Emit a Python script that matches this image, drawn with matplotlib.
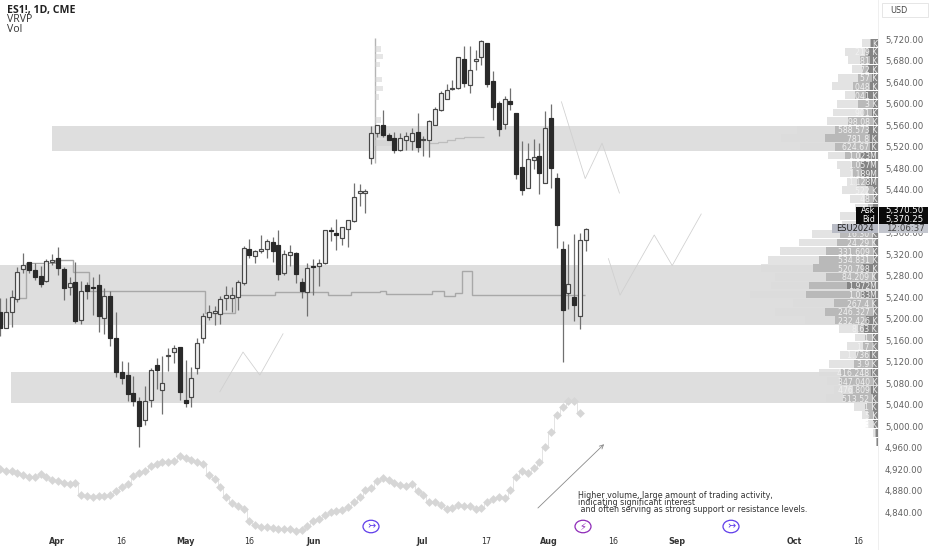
import numpy as np
import matplotlib
matplotlib.use('Agg')
import matplotlib.pyplot as plt
from matplotlib.patches import Ellipse, Rectangle

# daily candles, one row per bar: open, high, low, close
opens = [5213, 5183, 5213, 5237, 5293, 5305, 5290, 5279, 5271, 5306, 5313, 5293, 5260, 5269, 5198, 5263, 5259, 5263,
         5201, 5243, 5165, 5100, 5095, 5061, 5046, 5011, 5049, 5114, 5067, 5130, 5138, 5147, 5048, 5054, 5109, 5164,
         5203, 5211, 5208, 5239, 5239, 5240, 5267, 5329, 5316, 5327, 5329, 5342, 5338, 5285, 5319, 5322, 5269, 5249,
         5298, 5298, 5303, 5365, 5360, 5350, 5368, 5382, 5435, 5434, 5499, 5545, 5560, 5543, 5536, 5514, 5533, 5531,
         5547, 5532, 5532, 5561, 5589, 5610, 5627, 5630, 5684, 5636, 5679, 5687, 5714, 5643, 5601, 5563, 5606, 5583,
         5482, 5444, 5495, 5503, 5453, 5573, 5462, 5329, 5248, 5240, 5206, 5347]
highs = [5238, 5238, 5254, 5296, 5322, 5306, 5303, 5298, 5311, 5320, 5333, 5297, 5278, 5306, 5271, 5269, 5278, 5283,
         5257, 5251, 5212, 5121, 5119, 5094, 5055, 5075, 5108, 5126, 5131, 5145, 5151, 5148, 5124, 5111, 5164, 5210,
         5226, 5223, 5242, 5261, 5260, 5273, 5336, 5348, 5328, 5356, 5348, 5353, 5365, 5328, 5337, 5325, 5275, 5304,
         5311, 5312, 5366, 5371, 5385, 5371, 5384, 5453, 5451, 5442, 5559, 5561, 5589, 5546, 5548, 5545, 5548, 5555,
         5584, 5540, 5570, 5594, 5624, 5637, 5645, 5688, 5707, 5708, 5700, 5719, 5714, 5662, 5606, 5615, 5629, 5584,
         5531, 5527, 5534, 5527, 5587, 5600, 5471, 5344, 5340, 5358, 5359, 5369]
lows = [5167, 5182, 5185, 5232, 5285, 5285, 5272, 5260, 5269, 5300, 5282, 5234, 5244, 5192, 5190, 5236, 5207, 5176,
        5172, 5149, 5092, 5079, 5047, 5038, 4962, 5002, 5036, 5070, 5022, 5103, 5117, 5049, 5036, 5035, 5097, 5155,
        5198, 5188, 5190, 5216, 5213, 5216, 5263, 5313, 5304, 5323, 5313, 5306, 5272, 5282, 5298, 5267, 5238, 5205,
        5245, 5261, 5302, 5345, 5328, 5337, 5334, 5381, 5409, 5397, 5489, 5538, 5539, 5532, 5509, 5513, 5515, 5515,
        5511, 5503, 5502, 5561, 5587, 5609, 5626, 5628, 5631, 5621, 5664, 5673, 5631, 5570, 5541, 5553, 5589, 5461,
        5431, 5443, 5479, 5433, 5452, 5444, 5331, 5119, 5219, 5195, 5181, 5327]
closes = [5182, 5213, 5241, 5287, 5301, 5291, 5277, 5264, 5308, 5308, 5294, 5258, 5266, 5195, 5252, 5251, 5257, 5206,
          5242, 5165, 5101, 5090, 5060, 5046, 5001, 5046, 5105, 5105, 5081, 5131, 5146, 5064, 5044, 5090, 5154, 5206,
          5212, 5212, 5237, 5245, 5244, 5268, 5332, 5318, 5326, 5330, 5344, 5326, 5283, 5321, 5324, 5283, 5252, 5294,
          5296, 5303, 5365, 5363, 5355, 5370, 5383, 5427, 5437, 5437, 5545, 5560, 5542, 5533, 5515, 5537, 5541, 5545,
          5520, 5533, 5568, 5590, 5620, 5625, 5630, 5687, 5639, 5664, 5683, 5717, 5638, 5594, 5553, 5610, 5599, 5470,
          5440, 5497, 5502, 5471, 5556, 5480, 5374, 5216, 5264, 5226, 5347, 5368]

# grey volume average running along the bottom, in price units
vol_line = [4920, 4917, 4917, 4912, 4909, 4906, 4905, 4910, 4905, 4899, 4897, 4894, 4892, 4894, 4872, 4870, 4869,
            4870, 4870, 4871, 4880, 4886, 4892, 4907, 4912, 4917, 4925, 4930, 4933, 4933, 4936, 4945, 4940, 4937,
            4934, 4930, 4909, 4901, 4887, 4868, 4856, 4851, 4845, 4823, 4816, 4813, 4812, 4810, 4809, 4809, 4808,
            4805, 4807, 4814, 4824, 4828, 4835, 4841, 4842, 4844, 4850, 4859, 4868, 4881, 4885, 4897, 4903, 4899,
            4894, 4891, 4889, 4892, 4879, 4871, 4859, 4858, 4854, 4846, 4847, 4854, 4852, 4851, 4846, 4847, 4859,
            4864, 4869, 4867, 4882, 4905, 4917, 4913, 4922, 4934, 4961, 4989, 5020, 5035, 5047, 5046, 5024]

# point of control steps
poc_edges = [3, 4.5, 9.5, 12.5, 15.4, 35.3, 40.5, 47.4, 56.5, 60.5, 65.5, 66.5, 74.5, 76.5, 78.5, 79.6, 81.3, 100.9]
poc_levels = [5238, 5303, 5309, 5287, 5251, 5210, 5244, 5250, 5245, 5249, 5252, 5247, 5252, 5242, 5248, 5288, 5244]
upper_edges = [74, 75.5, 77, 78.5, 80, 81.5, 83.5]
upper_levels = [5528, 5530, 5533, 5536, 5538, 5539]

# small fixed range profile sitting on the gap bar
session_prices = [5702, 5688, 5673, 5645, 5629, 5613, 5570, 5542, 5527]
session_widths = [1.1, 1.5, 0.9, 1.2, 1.5, 0.7, 1.1, 2.0, 3.0]

# shaded zones
zone_start = [9, -1, 1.9]
zone_low = [5513, 5188, 5043]
zone_high = [5559.5, 5300, 5101]

# hand drawn sketches (bar, price)
sketch_a_x = [37.9, 41.9, 44.8, 48.8]
sketch_a_y = [5064, 5138, 5095, 5172]
sketch_b_x = [96.8, 100.9, 103.8, 106.8]
sketch_b_y = [5604, 5461, 5527, 5434]
sketch_c_x = [104.9, 106.9, 112.8, 115.9, 120.9]
sketch_c_y = [5312, 5244, 5356, 5299, 5395]
arrow_x = [92.4, 104.5]
arrow_y = [4844, 4970]

# right hand volume profile, rows from the top
row_prices = [5713, 5697, 5681, 5665, 5649, 5633, 5616, 5600, 5584, 5568, 5552, 5536, 5520, 5504, 5487, 5471, 5455,
              5439, 5423, 5407, 5391, 5375, 5358, 5342, 5326, 5310, 5294, 5278, 5262, 5245, 5229, 5213, 5197, 5181,
              5165, 5149, 5133, 5116, 5100, 5084, 5068, 5052, 5036, 5020, 5004, 4988, 4971]
row_total = [16, 33, 30, 26, 40, 46, 33, 41, 45, 51, 81, 97, 78, 50, 41, 38, 31, 36, 28, 23, 38, 36, 66, 79, 98, 110,
             117, 103, 107, 128, 85, 103, 73, 39, 23, 31, 38, 49, 59, 51, 44, 52, 24, 16, 10, 5, 2]
row_mid = [8, 13, 18, 16, 20, 25, 23, 20, 15, 30, 43, 53, 43, 33, 26, 25, 21, 10, 13, 10, 15, 15, 38, 41, 52, 59, 65,
           52, 69, 72, 44, 53, 43, 20, 13, 15, 22, 24, 38, 38, 25, 35, 13, 10, 5, 3, 2]
row_core = [7, 10, 8, 10, 6, 8, 12, 5, 6, 5, 10, 8, 8, 17, 17, 16, 12, 5, 5, 5, 5, 5, 5, 3, 5, 5, 15, 3, 31, 16, 4, 4,
            12, 14, 5, 5, 8, 5, 7, 5, 7, 5, 5, 4, 5, 2, 1]
row_labels = ['K', '219 K', '81 K', '72 K', '57 K', '048 K', '041 K', '3 K', '901 K', '98.08 K', '588.573 K',
              '781.8 K', '624.67 K', '1.023M', '1.057M', '1.189M', '1.128M', '522 K', '48 K', '', '', '',
              '16.30 K', '24.29 K', '331.609 K', '534.831 K', '520.798 K', '84.209 K', '1.972M', '1.033M', '267.4 K',
              '246.327 K', '232.426 K', '8.63 K', '1 K', '1.7 K', '1.736 K', '3.9 K', '416.248 K', '347.040 K',
              '476.809 K', '513.52 K', '1 K', '5 K', '3 K', '', '']

# axis ticks, 5,400 sits fully under the Ask/Bid boxes
date_ticks = [9.8, 20.9, 31.9, 42.9, 54, 72.8, 83.8, 94.7, 105.7, 116.7, 136.9, 147.9]
date_labels = ['Apr', '16', 'May', '16', 'Jun', 'Jul', '17', 'Aug', '16', 'Sep', 'Oct', '16']
price_ticks = [p for p in range(4840, 5721, 40) if p != 5400]

W, H = 932, 550
AXIS_X = 878

fig = plt.figure(figsize=(W / 100, H / 100), dpi=100, facecolor='white')
ax = fig.add_axes([0, 0, AXIS_X / W, 1])
ax.set_xlim(0, AXIS_X / 5.8)
ax.set_ylim(4769.4, 5793.5)
for name in ['top', 'left', 'bottom']:
    ax.spines[name].set_visible(False)
ax.spines['right'].set_color('#ececec')
ax.spines['right'].set_linewidth(0.6)

for start, low, high in zip(zone_start, zone_low, zone_high):
    ax.add_patch(Rectangle((start, low), 200, high - low, color='#dedede', lw=0, zorder=1))

# session profile on the gap bar
ax.vlines(64.6, 5490, 5722, color='#b4b4b4', lw=1.0, zorder=2)
ax.barh(session_prices, session_widths, height=10, left=64.6, color='#cfcfcf', alpha=0.5, lw=0, zorder=2)

# vol line
bars = np.arange(len(vol_line))
ax.plot(bars, vol_line, drawstyle='steps-mid', color='#e4e4e4', lw=0.7, zorder=2)
ax.scatter(bars, vol_line, marker='D', s=20, color='#d6d6d6', lw=0, zorder=2)

ax.stairs(poc_levels, poc_edges, baseline=None, color='#a8a8a8', lw=1.0, zorder=3)
ax.stairs(upper_levels, upper_edges, baseline=None, color='#bdbdbd', lw=0.9, zorder=3)

for sx, sy in [(sketch_a_x, sketch_a_y), (sketch_b_x, sketch_b_y), (sketch_c_x, sketch_c_y)]:
    ax.plot(sx, sy, color='#cfcfcf', lw=0.55, zorder=3)
ax.annotate('', xy=(arrow_x[1], arrow_y[1]), xytext=(arrow_x[0], arrow_y[0]),
            arrowprops=dict(arrowstyle='->', color='#8a8a8a', lw=0.6, mutation_scale=7), zorder=3)

# candles
o = np.array(opens)
c = np.array(closes)
x = np.arange(len(o))
up = c >= o
ax.vlines(x, lows, highs, color='#707070', lw=0.9, zorder=4)
heights = np.maximum(np.abs(c - o), 3)
bottoms = np.minimum(o, c)
ax.bar(x[up], heights[up], bottom=bottoms[up], width=0.66, facecolor='#ececec', edgecolor='#484848', lw=0.85, zorder=5)
ax.bar(x[~up], heights[~up], bottom=bottoms[~up], width=0.66, facecolor='#2a2a2a', edgecolor='#2a2a2a', lw=0.85, zorder=5)

ax.set_xticks(date_ticks)
ax.set_xticklabels(date_labels)
ax.tick_params(axis='x', length=0, pad=-9, labelsize=5.8, labelcolor='#333333')
for lab in ax.get_xticklabels():
    if not lab.get_text().isdigit():
        lab.set_fontweight('bold')
ax.yaxis.tick_right()
ax.set_yticks(price_ticks)
ax.set_yticklabels(['{:,.2f}'.format(p) for p in price_ticks])
ax.tick_params(axis='y', length=0, pad=5, labelsize=6.2, labelcolor='#606060')

# volume profile on its own scale, growing leftwards from the axis
prof = ax.twiny()
prof.set_xlim(AXIS_X, 0)
prof.set_xticks([])
prof.patch.set_visible(False)
for spine in prof.spines.values():
    spine.set_visible(False)
row_h = 14.6
prof.barh(row_prices, row_total, height=row_h, color='#dcdcdc', alpha=0.8, lw=0)
prof.barh(row_prices, row_mid, height=row_h, color='#b9b9b9', lw=0)
prof.barh(row_prices, row_core, height=row_h, color='#858585', lw=0)
for price, label in zip(row_prices, row_labels):
    if label:
        prof.text(1, price, label, ha='right', va='center_baseline', fontsize=5.6, color='#f1f1f1')

# chart chrome, in pixels
over = fig.add_axes([0, 0, 1, 1], zorder=10)
over.set_xlim(0, W)
over.set_ylim(H, 0)
over.axis('off')

over.text(7, 10, 'ES1!, 1D, CME', fontsize=7.6, fontweight='bold', family='Open Sans', color='#222222', va='center')
over.text(7, 20, 'VRVP', fontsize=7.6, family='Open Sans', color='#333333', va='center')
over.text(7, 30, 'Vol', fontsize=7.6, family='Open Sans', color='#333333', va='center')

over.add_patch(Rectangle((882, 3), 46, 14, facecolor='white', edgecolor='#e6e6e6', lw=0.7))
over.text(899, 10.5, 'USD', fontsize=5.8, color='#444444', ha='center', va='center')

for y0, name, value in [(206.5, 'Ask', '5,370.50'), (215, 'Bid', '5,370.25')]:
    over.add_patch(Rectangle((856, y0), 21.5, 8.8, color='#0a0a0a', lw=0))
    over.add_patch(Rectangle((879, y0), 49, 8.8, color='#0a0a0a', lw=0))
    over.text(875, y0 + 4.4, name, fontsize=5.8, color='white', ha='right', va='center')
    over.text(905, y0 + 4.4, value, fontsize=6.2, color='white', ha='center', va='center')
over.add_patch(Rectangle((832, 224), 45.5, 9, color='#b9bcc6', lw=0))
over.add_patch(Rectangle((879, 224), 49, 9, color='#c3c6ce', lw=0))
over.text(854.5, 228.5, 'ESU2024', fontsize=6, color='#222222', ha='center', va='center')
over.text(905, 228.5, '12:06:37', fontsize=6.2, color='#444444', ha='center', va='center')

over.text(578, 491.5, 'Higher volume, large amount of trading activity,\nindicating significant interest\n'
          ' and often serving as strong support or resistance levels.',
          fontsize=5.8, color='#333333', va='top', ha='left', linespacing=0.65)

for ex, color, glyph in [(371, '#5f3dea', '\u21a3'), (583, '#8e2bb8', '\u26a1'), (731, '#5f3dea', '\u21a3')]:
    over.add_patch(Ellipse((ex, 526.5), 16, 12.5, facecolor='white', edgecolor=color, lw=0.9))
    over.text(ex, 526.5, glyph, fontsize=7, color=color, ha='center', va='center')

fig.savefig('out.png', dpi=100)
